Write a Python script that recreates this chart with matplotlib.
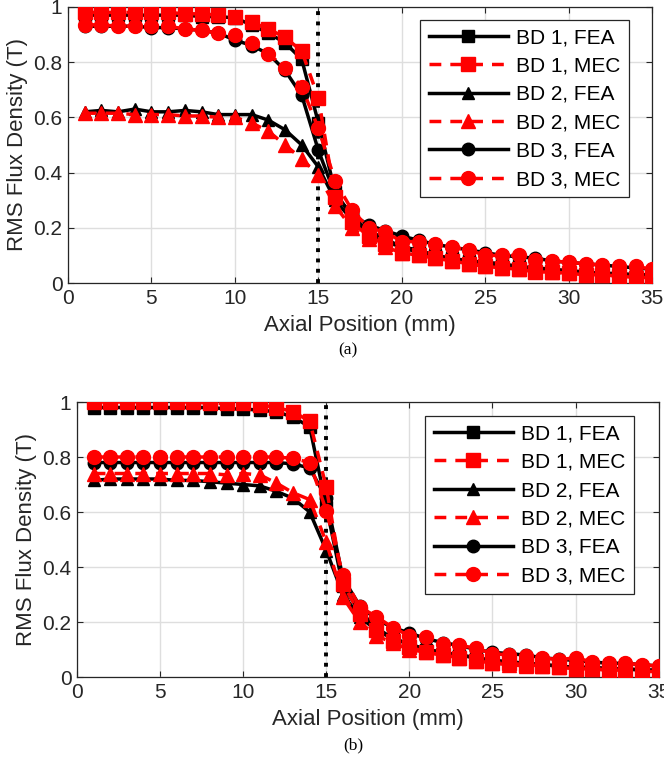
import numpy as np
import matplotlib.pyplot as plt

plt.rcParams['font.family'] = ['Liberation Sans', 'DejaVu Sans']

x = np.arange(1, 36)

# (a)
a_bd1_fea = [0.97, 0.97, 0.97, 0.97, 0.97, 0.97, 0.97, 0.965, 0.965, 0.96,
             0.935, 0.905, 0.87, 0.81, 0.58, 0.33, 0.24, 0.19, 0.16, 0.13,
             0.12, 0.10, 0.09, 0.08, 0.075, 0.07, 0.06, 0.055, 0.05, 0.045,
             0.04, 0.035, 0.035, 0.03, 0.03]
a_bd1_mec = [0.98, 0.98, 0.98, 0.98, 0.98, 0.98, 0.975, 0.975, 0.97, 0.965,
             0.945, 0.92, 0.89, 0.84, 0.67, 0.31, 0.22, 0.17, 0.14, 0.11,
             0.10, 0.09, 0.08, 0.07, 0.06, 0.055, 0.05, 0.04, 0.04, 0.035,
             0.03, 0.03, 0.025, 0.02, 0.02]
a_bd2_fea = [0.62, 0.625, 0.62, 0.63, 0.62, 0.62, 0.625, 0.62, 0.61, 0.61,
             0.61, 0.59, 0.555, 0.50, 0.42, 0.30, 0.23, 0.18, 0.15, 0.13,
             0.11, 0.10, 0.085, 0.075, 0.07, 0.06, 0.055, 0.05, 0.045, 0.04,
             0.04, 0.035, 0.03, 0.03, 0.03]
a_bd2_mec = [0.615, 0.615, 0.615, 0.61, 0.61, 0.61, 0.605, 0.605, 0.60, 0.60,
             0.58, 0.55, 0.50, 0.45, 0.39, 0.28, 0.20, 0.16, 0.13, 0.11,
             0.10, 0.09, 0.08, 0.07, 0.06, 0.055, 0.05, 0.045, 0.04, 0.035,
             0.03, 0.03, 0.025, 0.02, 0.02]
a_bd3_fea = [0.93, 0.93, 0.93, 0.93, 0.925, 0.925, 0.92, 0.915, 0.905, 0.88,
             0.86, 0.83, 0.77, 0.68, 0.48, 0.32, 0.25, 0.21, 0.19, 0.17,
             0.155, 0.14, 0.13, 0.12, 0.11, 0.10, 0.095, 0.09, 0.08, 0.075,
             0.07, 0.065, 0.06, 0.055, 0.05]
a_bd3_mec = [0.935, 0.935, 0.93, 0.93, 0.93, 0.93, 0.92, 0.915, 0.905, 0.90,
             0.87, 0.83, 0.78, 0.71, 0.56, 0.37, 0.265, 0.20, 0.185, 0.15,
             0.15, 0.14, 0.13, 0.12, 0.10, 0.10, 0.10, 0.085, 0.08, 0.075,
             0.07, 0.065, 0.06, 0.06, 0.05]

# (b)
b_bd1_fea = [0.98, 0.98, 0.98, 0.98, 0.98, 0.98, 0.98, 0.98, 0.975, 0.975,
             0.97, 0.965, 0.945, 0.91, 0.62, 0.33, 0.24, 0.18, 0.14, 0.12,
             0.10, 0.09, 0.08, 0.07, 0.06, 0.055, 0.05, 0.045, 0.04, 0.035,
             0.035, 0.03, 0.03, 0.025, 0.025]
b_bd1_mec = [1.0, 1.0, 1.0, 1.0, 1.0, 1.0, 1.0, 0.995, 0.995, 0.995,
             0.99, 0.98, 0.965, 0.93, 0.69, 0.34, 0.23, 0.17, 0.13, 0.11,
             0.09, 0.08, 0.07, 0.06, 0.05, 0.05, 0.045, 0.04, 0.035, 0.03,
             0.03, 0.025, 0.025, 0.02, 0.02]
b_bd2_fea = [0.715, 0.72, 0.72, 0.72, 0.72, 0.715, 0.715, 0.71, 0.705, 0.70,
             0.695, 0.675, 0.65, 0.60, 0.46, 0.30, 0.22, 0.17, 0.14, 0.12,
             0.10, 0.09, 0.08, 0.07, 0.06, 0.055, 0.05, 0.045, 0.04, 0.035,
             0.035, 0.03, 0.03, 0.025, 0.025]
b_bd2_mec = [0.74, 0.74, 0.74, 0.74, 0.74, 0.74, 0.74, 0.74, 0.735, 0.74,
             0.735, 0.705, 0.67, 0.645, 0.49, 0.29, 0.20, 0.15, 0.125, 0.10,
             0.09, 0.08, 0.07, 0.06, 0.05, 0.045, 0.04, 0.04, 0.035, 0.03,
             0.03, 0.025, 0.025, 0.02, 0.02]
b_bd3_fea = [0.78, 0.78, 0.78, 0.78, 0.78, 0.78, 0.78, 0.78, 0.78, 0.78,
             0.78, 0.78, 0.775, 0.76, 0.65, 0.36, 0.26, 0.21, 0.18, 0.16,
             0.14, 0.125, 0.115, 0.10, 0.09, 0.085, 0.08, 0.07, 0.065, 0.06,
             0.055, 0.05, 0.05, 0.045, 0.04]
b_bd3_mec = [0.80, 0.80, 0.80, 0.80, 0.80, 0.80, 0.80, 0.80, 0.80, 0.80,
             0.80, 0.80, 0.795, 0.78, 0.605, 0.37, 0.255, 0.22, 0.18, 0.15,
             0.146, 0.12, 0.115, 0.105, 0.085, 0.08, 0.075, 0.07, 0.063, 0.07,
             0.055, 0.05, 0.05, 0.045, 0.04]

labels = ["BD 1, FEA", "BD 1, MEC", "BD 2, FEA", "BD 2, MEC", "BD 3, FEA", "BD 3, MEC"]
markers = ['s', 's', '^', '^', 'o', 'o']

fig = plt.figure(figsize=(6.64, 7.65), dpi=100)
ax_a = fig.add_axes([0.1024, 0.630, 0.880, 0.361])
ax_b = fig.add_axes([0.116, 0.115, 0.876, 0.3595])

panels = [
    (ax_a, [a_bd1_fea, a_bd1_mec, a_bd2_fea, a_bd2_mec, a_bd3_fea, a_bd3_mec],
     (0.603, 0.953)),
    (ax_b, [b_bd1_fea, b_bd1_mec, b_bd2_fea, b_bd2_mec, b_bd3_fea, b_bd3_mec],
     (0.599, 0.949)),
]

for ax, series, loc in panels:
    for i, ys in enumerate(series):
        if i % 2 == 0:
            ax.plot(x, ys, color='black', linestyle='-', linewidth=2.5,
                    marker=markers[i], markersize=9, label=labels[i], zorder=3)
        else:
            ax.plot(x, ys, color='red', linestyle='--', dashes=(3.4, 2.6), linewidth=2.5,
                    marker=markers[i], markersize=10, label=labels[i], zorder=4)
    ax.axvline(15, color='black', linestyle=':', linewidth=2.8, zorder=2)
    ax.set_xlim(0, 35)
    ax.set_ylim(0, 1)
    ax.set_xticks(np.arange(0, 36, 5))
    ax.set_yticks([0, 0.2, 0.4, 0.6, 0.8, 1])
    ax.set_yticklabels(['0', '0.2', '0.4', '0.6', '0.8', '1'])
    ax.grid(True, color='#dedede', linewidth=1.0)
    ax.set_axisbelow(True)
    ax.tick_params(direction='in', labelsize=15, colors='#262626', length=4,
                   top=True, right=True, pad=4)
    for s in ax.spines.values():
        s.set_color('#262626')
        s.set_linewidth(0.9)
    ax.set_xlabel("Axial Position (mm)", fontsize=16, color='#262626', labelpad=5)
    ax.set_ylabel("RMS Flux Density (T)", fontsize=16, color='#262626', labelpad=4)
    leg = ax.legend(loc='upper left', bbox_to_anchor=loc, fontsize=15,
                    handlelength=3.8, handletextpad=0.4, borderpad=0.4,
                    labelspacing=0.45, fancybox=False, framealpha=1,
                    borderaxespad=0)
    leg.get_frame().set_edgecolor('#262626')
    leg.get_frame().set_linewidth(0.9)

fig.text(0.524, 0.5425, "(a)", fontsize=12.5, family='Liberation Serif', ha='center', va='center')
fig.text(0.532, 0.026, "(b)", fontsize=12.5, family='Liberation Serif', ha='center', va='center')

fig.savefig("out.png", dpi=100)
